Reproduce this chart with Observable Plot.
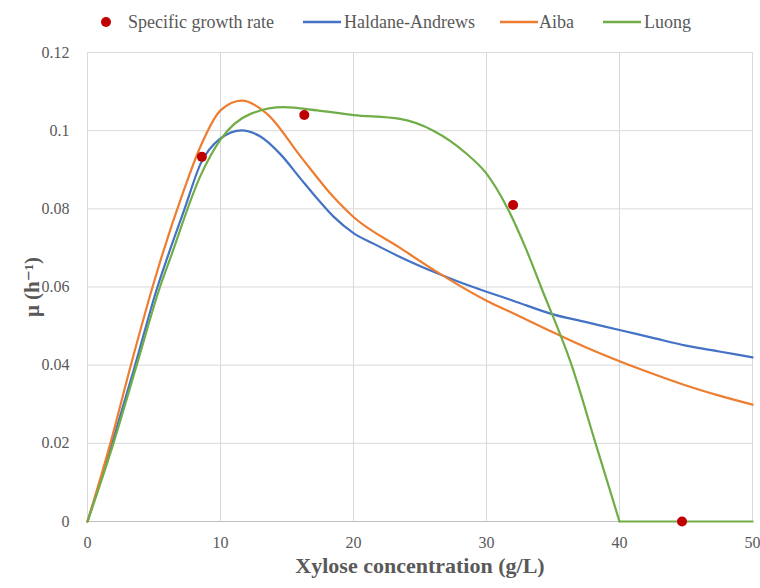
<!DOCTYPE html>
<html>
<head>
<meta charset="utf-8">
<script src="https://cdn.jsdelivr.net/npm/d3@7"></script>
<script src="https://cdn.jsdelivr.net/npm/@observablehq/plot@0.6"></script>
<style>
  html, body { margin: 0; padding: 0; background: white; }
  #wrap { position: relative; width: 760px; height: 588px; font-family: "Liberation Serif", "Times New Roman", "DejaVu Serif", serif; color: #595959; }
  #legend { position: absolute; left: 0; top: 0; width: 760px; height: 40px; font-size: 18px; }
  .li { position: absolute; top: 10px; line-height: 24px; white-space: nowrap; display: flex; align-items: center; }
  #chart { position: absolute; left: 0; top: 40px; }
  #chart svg text { font-family: "Liberation Serif", "Times New Roman", "DejaVu Serif", serif; }
</style>
</head>
<body>
<div id="wrap">
  <div id="legend"></div>
  <div id="chart"></div>
</div>
<script>
// ---- data ----
const xTicks = [0, 10, 20, 30, 40, 50];
const xTickLabels = ["0", "10", "20", "30", "40", "50"];
const yTicks = [0, 0.02, 0.04, 0.06, 0.08, 0.1, 0.12];
const yTickLabels = ["0", "0.02", "0.04", "0.06", "0.08", "0.1", "0.12"];

const seriesNames = ["Specific growth rate", "Haldane-Andrews", "Aiba", "Luong"];
const seriesColors = ["#C00000", "#4472C4", "#ED7D31", "#70AD47"];

// measured specific growth rate
const obsX = [8.6, 16.3, 32.0, 44.7];
const obsY = [0.0933, 0.104, 0.081, 0];

// Haldane-Andrews model
const haldaneX = [0, 1.85, 3.58, 5.26, 6.0, 7.3, 8.5, 10, 11.6, 13, 14.5, 16, 17.3, 18.5, 20, 21.5, 23.5, 26.3, 28, 30, 32, 35, 37.5, 40, 42.5, 45, 47.5, 50];
const haldaneY = [0, 0.02, 0.04, 0.06, 0.0675, 0.08, 0.0915, 0.098, 0.1001, 0.0985, 0.094, 0.0878, 0.0825, 0.078, 0.0738, 0.0711, 0.0677, 0.0635, 0.0612, 0.0588, 0.0565, 0.053, 0.051, 0.049, 0.047, 0.045, 0.0435, 0.042];

// Aiba model
const aibaX = [0, 1.72, 3.26, 4.89, 5.49, 7.24, 8.5, 10, 11.6, 13.5, 16, 18.5, 20, 23.5, 26.3, 30, 32, 35, 37.5, 40, 42.5, 45, 47.5, 50];
const aibaY = [0, 0.02, 0.04, 0.06, 0.0668, 0.0847, 0.096, 0.1052, 0.1077, 0.1043, 0.0935, 0.083, 0.0779, 0.07, 0.0638, 0.0565, 0.0533, 0.0484, 0.0445, 0.041, 0.0378, 0.0348, 0.0322, 0.0299];

// Luong model (drops to zero at the critical concentration 40 g/L)
const luongX = [0, 1.95, 3.7, 5.45, 6.24, 8.5, 10, 12.26, 14.76, 17.27, 20, 23.5, 26, 28.5, 30, 31.6, 33.0, 34.1, 36.4, 38.2, 40, 45, 50];
const luongY = [0, 0.02, 0.04, 0.06, 0.0675, 0.0885, 0.0977, 0.1043, 0.106, 0.1052, 0.104, 0.103, 0.1, 0.0941, 0.089, 0.08, 0.0695, 0.06, 0.04, 0.02, 0, 0, 0];
const luongBreak = 40;

const xLabel = "Xylose concentration (g/L)";
const yLabel = "μ (h⁻¹)";

// ---- build tables ----
const toRows = (xs, ys, name) => xs.map((x, i) => ({ x, y: ys[i], name, seg: 0 }));
const obs = toRows(obsX, obsY, seriesNames[0]);
const luongRows = toRows(luongX, luongY, seriesNames[3]).flatMap((r) =>
  r.x < luongBreak ? [r] : r.x === luongBreak ? [r, { ...r, seg: 1 }] : [{ ...r, seg: 1 }]
);
const models = [
  toRows(haldaneX, haldaneY, seriesNames[1]),
  toRows(aibaX, aibaY, seriesNames[2]),
  luongRows
];

const fam = "'Liberation Serif', 'Times New Roman', 'DejaVu Serif', serif";
const chart = Plot.plot({
  width: 760,
  height: 548,
  marginTop: 12,
  marginBottom: 67,
  marginLeft: 87,
  marginRight: 8,
  style: { fontFamily: fam, fontSize: "16px", color: "#595959", background: "white" },
  x: { domain: [0, 50] },
  y: { domain: [0, 0.12] },
  marks: [
    Plot.gridX(xTicks, { stroke: "#d9d9d9", strokeOpacity: 1, strokeWidth: 1 }),
    Plot.gridY(yTicks, { stroke: "#d9d9d9", strokeOpacity: 1, strokeWidth: 1 }),
    Plot.ruleY([0], { stroke: "#bfbfbf", strokeWidth: 1 }),
    Plot.axisX(xTicks, { tickSize: 0, tickPadding: 15, label: null, fontSize: 16, tickFormat: (d) => xTickLabels[xTicks.indexOf(d)] }),
    Plot.axisY(yTicks, { tickSize: 0, tickPadding: 18, label: null, fontSize: 16, tickFormat: (d) => yTickLabels[yTicks.indexOf(d)] }),
    ...models.map((rows, i) => Plot.line(rows, { x: "x", y: "y", z: "seg", stroke: seriesColors[i + 1], strokeWidth: 2.2, curve: "monotone-x" })),
    Plot.dot(obs, { x: "x", y: "y", r: 5, fill: seriesColors[0], stroke: "none" }),
    Plot.text([xLabel], { frameAnchor: "bottom", dy: 51, fontWeight: "bold", fontSize: 22, fill: "#595959" }),
    Plot.text([yLabel], { frameAnchor: "left", textAnchor: "middle", dx: -55, rotate: -90, fontWeight: "bold", fontSize: 21, fill: "#595959" })
  ]
});
document.getElementById("chart").appendChild(chart);

// ---- legend ----
const legendPos = [
  { sw: 100, tx: 128, kind: "dot" },
  { sw: 303, tx: 344, kind: "line" },
  { sw: 500, tx: 539, kind: "line" },
  { sw: 603, tx: 644, kind: "line" }
];
const legend = document.getElementById("legend");
seriesNames.forEach((name, i) => {
  const p = legendPos[i];
  const sw = document.createElement("div");
  sw.className = "li";
  sw.style.left = p.sw + "px";
  sw.innerHTML = p.kind === "dot"
    ? `<svg width="12" height="24"><circle cx="6" cy="12" r="5" fill="${seriesColors[i]}"/></svg>`
    : `<svg width="38" height="24"><line x1="0" x2="38" y1="12" y2="12" stroke="${seriesColors[i]}" stroke-width="2.5"/></svg>`;
  legend.appendChild(sw);
  const t = document.createElement("div");
  t.className = "li";
  t.style.left = p.tx + "px";
  t.textContent = name;
  legend.appendChild(t);
});
</script>
</body>
</html>
